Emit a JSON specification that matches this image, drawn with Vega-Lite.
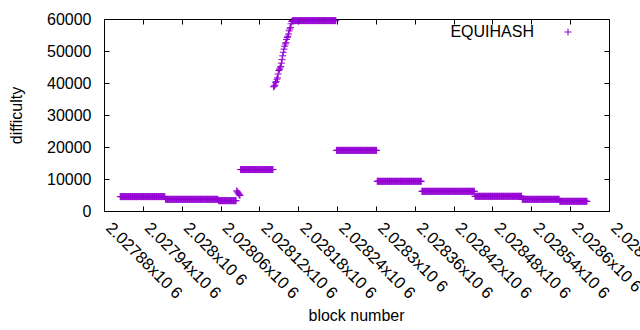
{
"$schema":"https://vega.github.io/schema/vega-lite/v6.json",
"width":505,"height":192,
"autosize":{"type":"none"},
"padding":{"left":104,"top":19,"right":31,"bottom":119},
"config":{"view":{"stroke":"#000","strokeWidth":1},"font":"Liberation Sans",
 "axis":{"grid":false,"domain":false,"tickColor":"#000","tickWidth":1,"labelColor":"#000","labelFont":"Liberation Sans","labelFontSize":16,"titleFont":"Liberation Sans","titleFontSize":16,"titleFontWeight":"normal","titleColor":"#000"},
 "legend":{"padding":0,"offset":0}},
"data":{"values":[
{"b":2027905,"d":4500},{"b":2027906,"d":4500},{"b":2027907,"d":4500},{"b":2027908,"d":4500},{"b":2027909,"d":4500},{"b":2027910,"d":4500},{"b":2027911,"d":4500},{"b":2027912,"d":4500},{"b":2027913,"d":4500},{"b":2027914,"d":4500},{"b":2027915,"d":4500},{"b":2027916,"d":4500},{"b":2027917,"d":4500},{"b":2027918,"d":4500},{"b":2027919,"d":4500},{"b":2027920,"d":4500},{"b":2027921,"d":4500},{"b":2027922,"d":4500},{"b":2027923,"d":4500},{"b":2027924,"d":4500},{"b":2027925,"d":4500},{"b":2027926,"d":4500},{"b":2027927,"d":4500},{"b":2027928,"d":4500},{"b":2027929,"d":4500},{"b":2027930,"d":4500},{"b":2027931,"d":4500},{"b":2027932,"d":4500},{"b":2027933,"d":4500},{"b":2027934,"d":4500},{"b":2027935,"d":4500},{"b":2027936,"d":4500},{"b":2027937,"d":4500},{"b":2027938,"d":4500},{"b":2027939,"d":4500},{"b":2027940,"d":4500},{"b":2027941,"d":4500},{"b":2027942,"d":4500},{"b":2027943,"d":4500},{"b":2027944,"d":4500},{"b":2027945,"d":4500},{"b":2027946,"d":4500},{"b":2027947,"d":4500},{"b":2027948,"d":4500},{"b":2027949,"d":4500},{"b":2027950,"d":4500},{"b":2027951,"d":4500},{"b":2027952,"d":4500},{"b":2027953,"d":4500},{"b":2027954,"d":4500},{"b":2027955,"d":4500},{"b":2027956,"d":4500},{"b":2027957,"d":4500},{"b":2027958,"d":4500},{"b":2027959,"d":4500},{"b":2027960,"d":4500},{"b":2027961,"d":4500},{"b":2027962,"d":4500},{"b":2027963,"d":4500},{"b":2027964,"d":4500},{"b":2027965,"d":4500},{"b":2027966,"d":4500},{"b":2027967,"d":4500},{"b":2027968,"d":4500},{"b":2027969,"d":4500},{"b":2027970,"d":4500},{"b":2027971,"d":4500},{"b":2027972,"d":4500},{"b":2027973,"d":4500},{"b":2027974,"d":4500},
{"b":2027975,"d":3650},{"b":2027976,"d":3650},{"b":2027977,"d":3650},{"b":2027978,"d":3650},{"b":2027979,"d":3650},{"b":2027980,"d":3650},{"b":2027981,"d":3650},{"b":2027982,"d":3650},{"b":2027983,"d":3650},{"b":2027984,"d":3650},{"b":2027985,"d":3650},{"b":2027986,"d":3650},{"b":2027987,"d":3650},{"b":2027988,"d":3650},{"b":2027989,"d":3650},{"b":2027990,"d":3650},{"b":2027991,"d":3650},{"b":2027992,"d":3650},{"b":2027993,"d":3650},{"b":2027994,"d":3650},{"b":2027995,"d":3650},{"b":2027996,"d":3650},{"b":2027997,"d":3650},{"b":2027998,"d":3650},{"b":2027999,"d":3650},{"b":2028000,"d":3650},{"b":2028001,"d":3650},{"b":2028002,"d":3650},{"b":2028003,"d":3650},{"b":2028004,"d":3650},{"b":2028005,"d":3650},{"b":2028006,"d":3650},{"b":2028007,"d":3650},{"b":2028008,"d":3650},{"b":2028009,"d":3650},{"b":2028010,"d":3650},{"b":2028011,"d":3650},{"b":2028012,"d":3650},{"b":2028013,"d":3650},{"b":2028014,"d":3650},{"b":2028015,"d":3650},{"b":2028016,"d":3650},{"b":2028017,"d":3650},{"b":2028018,"d":3650},{"b":2028019,"d":3650},{"b":2028020,"d":3650},{"b":2028021,"d":3650},{"b":2028022,"d":3650},{"b":2028023,"d":3650},{"b":2028024,"d":3650},{"b":2028025,"d":3650},{"b":2028026,"d":3650},{"b":2028027,"d":3650},{"b":2028028,"d":3650},{"b":2028029,"d":3650},{"b":2028030,"d":3650},{"b":2028031,"d":3650},{"b":2028032,"d":3650},{"b":2028033,"d":3650},{"b":2028034,"d":3650},{"b":2028035,"d":3650},{"b":2028036,"d":3650},{"b":2028037,"d":3650},{"b":2028038,"d":3650},{"b":2028039,"d":3650},{"b":2028040,"d":3650},{"b":2028041,"d":3650},{"b":2028042,"d":3650},{"b":2028043,"d":3650},{"b":2028044,"d":3650},{"b":2028045,"d":3650},{"b":2028046,"d":3650},{"b":2028047,"d":3650},{"b":2028048,"d":3650},{"b":2028049,"d":3650},{"b":2028050,"d":3650},{"b":2028051,"d":3650},{"b":2028052,"d":3650},{"b":2028053,"d":3650},{"b":2028054,"d":3650},{"b":2028055,"d":3650},{"b":2028056,"d":3650},
{"b":2028057,"d":3230},{"b":2028058,"d":3230},{"b":2028059,"d":3230},{"b":2028060,"d":3230},{"b":2028061,"d":3230},{"b":2028062,"d":3230},{"b":2028063,"d":3230},{"b":2028064,"d":3230},{"b":2028065,"d":3230},{"b":2028066,"d":3230},{"b":2028067,"d":3230},{"b":2028068,"d":3230},{"b":2028069,"d":3230},{"b":2028070,"d":3230},{"b":2028071,"d":3230},{"b":2028072,"d":3230},{"b":2028073,"d":3230},{"b":2028074,"d":3230},{"b":2028075,"d":3230},{"b":2028076,"d":3230},{"b":2028077,"d":3230},{"b":2028078,"d":3230},{"b":2028079,"d":3230},{"b":2028080,"d":3230},{"b":2028081,"d":3230},{"b":2028082,"d":3230},{"b":2028083,"d":3230},{"b":2028084,"d":3230},
{"b":2028085,"d":6300},{"b":2028086,"d":6000},{"b":2028087,"d":5700},{"b":2028088,"d":5400},{"b":2028089,"d":5100},{"b":2028090,"d":4850},
{"b":2028091,"d":12950},{"b":2028092,"d":12950},{"b":2028093,"d":12950},{"b":2028094,"d":12950},{"b":2028095,"d":12950},{"b":2028096,"d":12950},{"b":2028097,"d":12950},{"b":2028098,"d":12950},{"b":2028099,"d":12950},{"b":2028100,"d":12950},{"b":2028101,"d":12950},{"b":2028102,"d":12950},{"b":2028103,"d":12950},{"b":2028104,"d":12950},{"b":2028105,"d":12950},{"b":2028106,"d":12950},{"b":2028107,"d":12950},{"b":2028108,"d":12950},{"b":2028109,"d":12950},{"b":2028110,"d":12950},{"b":2028111,"d":12950},{"b":2028112,"d":12950},{"b":2028113,"d":12950},{"b":2028114,"d":12950},{"b":2028115,"d":12950},{"b":2028116,"d":12950},{"b":2028117,"d":12950},{"b":2028118,"d":12950},{"b":2028119,"d":12950},{"b":2028120,"d":12950},{"b":2028121,"d":12950},{"b":2028122,"d":12950},{"b":2028123,"d":12950},{"b":2028124,"d":12950},{"b":2028125,"d":12950},{"b":2028126,"d":12950},{"b":2028127,"d":12950},{"b":2028128,"d":12950},{"b":2028129,"d":12950},{"b":2028130,"d":12950},{"b":2028131,"d":12950},{"b":2028132,"d":12950},{"b":2028133,"d":12950},{"b":2028134,"d":12950},{"b":2028135,"d":12950},{"b":2028136,"d":12950},{"b":2028137,"d":12950},{"b":2028138,"d":12950},{"b":2028139,"d":12950},{"b":2028140,"d":12950},{"b":2028141,"d":12950},
{"b":2028142,"d":38800},{"b":2028143,"d":39000},{"b":2028144,"d":39300},{"b":2028145,"d":40100},{"b":2028146,"d":40500},{"b":2028147,"d":41200},{"b":2028148,"d":41600},{"b":2028149,"d":42800},{"b":2028150,"d":43900},{"b":2028151,"d":44300},{"b":2028152,"d":44700},{"b":2028153,"d":45200},{"b":2028154,"d":46200},{"b":2028155,"d":47300},{"b":2028156,"d":48500},{"b":2028157,"d":49600},{"b":2028158,"d":50600},{"b":2028159,"d":51500},{"b":2028160,"d":52200},{"b":2028161,"d":52600},{"b":2028162,"d":53600},{"b":2028163,"d":54200},{"b":2028164,"d":54600},{"b":2028165,"d":55300},{"b":2028166,"d":56300},{"b":2028167,"d":56900},{"b":2028168,"d":57300},{"b":2028169,"d":58500},{"b":2028170,"d":59200},
{"b":2028171,"d":59500},{"b":2028172,"d":59500},{"b":2028173,"d":59500},{"b":2028174,"d":59500},{"b":2028175,"d":59500},{"b":2028176,"d":59500},{"b":2028177,"d":59500},{"b":2028178,"d":59500},{"b":2028179,"d":59500},{"b":2028180,"d":59500},{"b":2028181,"d":59500},{"b":2028182,"d":59500},{"b":2028183,"d":59500},{"b":2028184,"d":59500},{"b":2028185,"d":59500},{"b":2028186,"d":59500},{"b":2028187,"d":59500},{"b":2028188,"d":59500},{"b":2028189,"d":59500},{"b":2028190,"d":59500},{"b":2028191,"d":59500},{"b":2028192,"d":59500},{"b":2028193,"d":59500},{"b":2028194,"d":59500},{"b":2028195,"d":59500},{"b":2028196,"d":59500},{"b":2028197,"d":59500},{"b":2028198,"d":59500},{"b":2028199,"d":59500},{"b":2028200,"d":59500},{"b":2028201,"d":59500},{"b":2028202,"d":59500},{"b":2028203,"d":59500},{"b":2028204,"d":59500},{"b":2028205,"d":59500},{"b":2028206,"d":59500},{"b":2028207,"d":59500},{"b":2028208,"d":59500},{"b":2028209,"d":59500},{"b":2028210,"d":59500},{"b":2028211,"d":59500},{"b":2028212,"d":59500},{"b":2028213,"d":59500},{"b":2028214,"d":59500},{"b":2028215,"d":59500},{"b":2028216,"d":59500},{"b":2028217,"d":59500},{"b":2028218,"d":59500},{"b":2028219,"d":59500},{"b":2028220,"d":59500},{"b":2028221,"d":59500},{"b":2028222,"d":59500},{"b":2028223,"d":59500},{"b":2028224,"d":59500},{"b":2028225,"d":59500},{"b":2028226,"d":59500},{"b":2028227,"d":59500},{"b":2028228,"d":59500},{"b":2028229,"d":59500},{"b":2028230,"d":59500},{"b":2028231,"d":59500},{"b":2028232,"d":59500},{"b":2028233,"d":59500},{"b":2028234,"d":59500},{"b":2028235,"d":59500},{"b":2028236,"d":59500},{"b":2028237,"d":59500},{"b":2028238,"d":59500},
{"b":2028239,"d":18950},{"b":2028240,"d":18950},{"b":2028241,"d":18950},{"b":2028242,"d":18950},{"b":2028243,"d":18950},{"b":2028244,"d":18950},{"b":2028245,"d":18950},{"b":2028246,"d":18950},{"b":2028247,"d":18950},{"b":2028248,"d":18950},{"b":2028249,"d":18950},{"b":2028250,"d":18950},{"b":2028251,"d":18950},{"b":2028252,"d":18950},{"b":2028253,"d":18950},{"b":2028254,"d":18950},{"b":2028255,"d":18950},{"b":2028256,"d":18950},{"b":2028257,"d":18950},{"b":2028258,"d":18950},{"b":2028259,"d":18950},{"b":2028260,"d":18950},{"b":2028261,"d":18950},{"b":2028262,"d":18950},{"b":2028263,"d":18950},{"b":2028264,"d":18950},{"b":2028265,"d":18950},{"b":2028266,"d":18950},{"b":2028267,"d":18950},{"b":2028268,"d":18950},{"b":2028269,"d":18950},{"b":2028270,"d":18950},{"b":2028271,"d":18950},{"b":2028272,"d":18950},{"b":2028273,"d":18950},{"b":2028274,"d":18950},{"b":2028275,"d":18950},{"b":2028276,"d":18950},{"b":2028277,"d":18950},{"b":2028278,"d":18950},{"b":2028279,"d":18950},{"b":2028280,"d":18950},{"b":2028281,"d":18950},{"b":2028282,"d":18950},{"b":2028283,"d":18950},{"b":2028284,"d":18950},{"b":2028285,"d":18950},{"b":2028286,"d":18950},{"b":2028287,"d":18950},{"b":2028288,"d":18950},{"b":2028289,"d":18950},{"b":2028290,"d":18950},{"b":2028291,"d":18950},{"b":2028292,"d":18950},{"b":2028293,"d":18950},{"b":2028294,"d":18950},{"b":2028295,"d":18950},{"b":2028296,"d":18950},{"b":2028297,"d":18950},{"b":2028298,"d":18950},{"b":2028299,"d":18950},{"b":2028300,"d":18950},{"b":2028301,"d":18950},
{"b":2028302,"d":9280},{"b":2028303,"d":9280},{"b":2028304,"d":9280},{"b":2028305,"d":9280},{"b":2028306,"d":9280},{"b":2028307,"d":9280},{"b":2028308,"d":9280},{"b":2028309,"d":9280},{"b":2028310,"d":9280},{"b":2028311,"d":9280},{"b":2028312,"d":9280},{"b":2028313,"d":9280},{"b":2028314,"d":9280},{"b":2028315,"d":9280},{"b":2028316,"d":9280},{"b":2028317,"d":9280},{"b":2028318,"d":9280},{"b":2028319,"d":9280},{"b":2028320,"d":9280},{"b":2028321,"d":9280},{"b":2028322,"d":9280},{"b":2028323,"d":9280},{"b":2028324,"d":9280},{"b":2028325,"d":9280},{"b":2028326,"d":9280},{"b":2028327,"d":9280},{"b":2028328,"d":9280},{"b":2028329,"d":9280},{"b":2028330,"d":9280},{"b":2028331,"d":9280},{"b":2028332,"d":9280},{"b":2028333,"d":9280},{"b":2028334,"d":9280},{"b":2028335,"d":9280},{"b":2028336,"d":9280},{"b":2028337,"d":9280},{"b":2028338,"d":9280},{"b":2028339,"d":9280},{"b":2028340,"d":9280},{"b":2028341,"d":9280},{"b":2028342,"d":9280},{"b":2028343,"d":9280},{"b":2028344,"d":9280},{"b":2028345,"d":9280},{"b":2028346,"d":9280},{"b":2028347,"d":9280},{"b":2028348,"d":9280},{"b":2028349,"d":9280},{"b":2028350,"d":9280},{"b":2028351,"d":9280},{"b":2028352,"d":9280},{"b":2028353,"d":9280},{"b":2028354,"d":9280},{"b":2028355,"d":9280},{"b":2028356,"d":9280},{"b":2028357,"d":9280},{"b":2028358,"d":9280},{"b":2028359,"d":9280},{"b":2028360,"d":9280},{"b":2028361,"d":9280},{"b":2028362,"d":9280},{"b":2028363,"d":9280},{"b":2028364,"d":9280},{"b":2028365,"d":9280},{"b":2028366,"d":9280},{"b":2028367,"d":9280},{"b":2028368,"d":9280},{"b":2028369,"d":9280},{"b":2028370,"d":9280},
{"b":2028371,"d":6150},{"b":2028372,"d":6150},{"b":2028373,"d":6150},{"b":2028374,"d":6150},{"b":2028375,"d":6150},{"b":2028376,"d":6150},{"b":2028377,"d":6150},{"b":2028378,"d":6150},{"b":2028379,"d":6150},{"b":2028380,"d":6150},{"b":2028381,"d":6150},{"b":2028382,"d":6150},{"b":2028383,"d":6150},{"b":2028384,"d":6150},{"b":2028385,"d":6150},{"b":2028386,"d":6150},{"b":2028387,"d":6150},{"b":2028388,"d":6150},{"b":2028389,"d":6150},{"b":2028390,"d":6150},{"b":2028391,"d":6150},{"b":2028392,"d":6150},{"b":2028393,"d":6150},{"b":2028394,"d":6150},{"b":2028395,"d":6150},{"b":2028396,"d":6150},{"b":2028397,"d":6150},{"b":2028398,"d":6150},{"b":2028399,"d":6150},{"b":2028400,"d":6150},{"b":2028401,"d":6150},{"b":2028402,"d":6150},{"b":2028403,"d":6150},{"b":2028404,"d":6150},{"b":2028405,"d":6150},{"b":2028406,"d":6150},{"b":2028407,"d":6150},{"b":2028408,"d":6150},{"b":2028409,"d":6150},{"b":2028410,"d":6150},{"b":2028411,"d":6150},{"b":2028412,"d":6150},{"b":2028413,"d":6150},{"b":2028414,"d":6150},{"b":2028415,"d":6150},{"b":2028416,"d":6150},{"b":2028417,"d":6150},{"b":2028418,"d":6150},{"b":2028419,"d":6150},{"b":2028420,"d":6150},{"b":2028421,"d":6150},{"b":2028422,"d":6150},{"b":2028423,"d":6150},{"b":2028424,"d":6150},{"b":2028425,"d":6150},{"b":2028426,"d":6150},{"b":2028427,"d":6150},{"b":2028428,"d":6150},{"b":2028429,"d":6150},{"b":2028430,"d":6150},{"b":2028431,"d":6150},{"b":2028432,"d":6150},{"b":2028433,"d":6150},{"b":2028434,"d":6150},{"b":2028435,"d":6150},{"b":2028436,"d":6150},{"b":2028437,"d":6150},{"b":2028438,"d":6150},{"b":2028439,"d":6150},{"b":2028440,"d":6150},{"b":2028441,"d":6150},{"b":2028442,"d":6150},{"b":2028443,"d":6150},{"b":2028444,"d":6150},{"b":2028445,"d":6150},{"b":2028446,"d":6150},{"b":2028447,"d":6150},{"b":2028448,"d":6150},{"b":2028449,"d":6150},{"b":2028450,"d":6150},{"b":2028451,"d":6150},{"b":2028452,"d":6150},
{"b":2028453,"d":4590},{"b":2028454,"d":4590},{"b":2028455,"d":4590},{"b":2028456,"d":4590},{"b":2028457,"d":4590},{"b":2028458,"d":4590},{"b":2028459,"d":4590},{"b":2028460,"d":4590},{"b":2028461,"d":4590},{"b":2028462,"d":4590},{"b":2028463,"d":4590},{"b":2028464,"d":4590},{"b":2028465,"d":4590},{"b":2028466,"d":4590},{"b":2028467,"d":4590},{"b":2028468,"d":4590},{"b":2028469,"d":4590},{"b":2028470,"d":4590},{"b":2028471,"d":4590},{"b":2028472,"d":4590},{"b":2028473,"d":4590},{"b":2028474,"d":4590},{"b":2028475,"d":4590},{"b":2028476,"d":4590},{"b":2028477,"d":4590},{"b":2028478,"d":4590},{"b":2028479,"d":4590},{"b":2028480,"d":4590},{"b":2028481,"d":4590},{"b":2028482,"d":4590},{"b":2028483,"d":4590},{"b":2028484,"d":4590},{"b":2028485,"d":4590},{"b":2028486,"d":4590},{"b":2028487,"d":4590},{"b":2028488,"d":4590},{"b":2028489,"d":4590},{"b":2028490,"d":4590},{"b":2028491,"d":4590},{"b":2028492,"d":4590},{"b":2028493,"d":4590},{"b":2028494,"d":4590},{"b":2028495,"d":4590},{"b":2028496,"d":4590},{"b":2028497,"d":4590},{"b":2028498,"d":4590},{"b":2028499,"d":4590},{"b":2028500,"d":4590},{"b":2028501,"d":4590},{"b":2028502,"d":4590},{"b":2028503,"d":4590},{"b":2028504,"d":4590},{"b":2028505,"d":4590},{"b":2028506,"d":4590},{"b":2028507,"d":4590},{"b":2028508,"d":4590},{"b":2028509,"d":4590},{"b":2028510,"d":4590},{"b":2028511,"d":4590},{"b":2028512,"d":4590},{"b":2028513,"d":4590},{"b":2028514,"d":4590},{"b":2028515,"d":4590},{"b":2028516,"d":4590},{"b":2028517,"d":4590},{"b":2028518,"d":4590},{"b":2028519,"d":4590},{"b":2028520,"d":4590},{"b":2028521,"d":4590},{"b":2028522,"d":4590},{"b":2028523,"d":4590},{"b":2028524,"d":4590},{"b":2028525,"d":4590},
{"b":2028526,"d":3650},{"b":2028527,"d":3650},{"b":2028528,"d":3650},{"b":2028529,"d":3650},{"b":2028530,"d":3650},{"b":2028531,"d":3650},{"b":2028532,"d":3650},{"b":2028533,"d":3650},{"b":2028534,"d":3650},{"b":2028535,"d":3650},{"b":2028536,"d":3650},{"b":2028537,"d":3650},{"b":2028538,"d":3650},{"b":2028539,"d":3650},{"b":2028540,"d":3650},{"b":2028541,"d":3650},{"b":2028542,"d":3650},{"b":2028543,"d":3650},{"b":2028544,"d":3650},{"b":2028545,"d":3650},{"b":2028546,"d":3650},{"b":2028547,"d":3650},{"b":2028548,"d":3650},{"b":2028549,"d":3650},{"b":2028550,"d":3650},{"b":2028551,"d":3650},{"b":2028552,"d":3650},{"b":2028553,"d":3650},{"b":2028554,"d":3650},{"b":2028555,"d":3650},{"b":2028556,"d":3650},{"b":2028557,"d":3650},{"b":2028558,"d":3650},{"b":2028559,"d":3650},{"b":2028560,"d":3650},{"b":2028561,"d":3650},{"b":2028562,"d":3650},{"b":2028563,"d":3650},{"b":2028564,"d":3650},{"b":2028565,"d":3650},{"b":2028566,"d":3650},{"b":2028567,"d":3650},{"b":2028568,"d":3650},{"b":2028569,"d":3650},{"b":2028570,"d":3650},{"b":2028571,"d":3650},{"b":2028572,"d":3650},{"b":2028573,"d":3650},{"b":2028574,"d":3650},{"b":2028575,"d":3650},{"b":2028576,"d":3650},{"b":2028577,"d":3650},{"b":2028578,"d":3650},{"b":2028579,"d":3650},{"b":2028580,"d":3650},{"b":2028581,"d":3650},{"b":2028582,"d":3650},{"b":2028583,"d":3650},
{"b":2028584,"d":3030},{"b":2028585,"d":3030},{"b":2028586,"d":3030},{"b":2028587,"d":3030},{"b":2028588,"d":3030},{"b":2028589,"d":3030},{"b":2028590,"d":3030},{"b":2028591,"d":3030},{"b":2028592,"d":3030},{"b":2028593,"d":3030},{"b":2028594,"d":3030},{"b":2028595,"d":3030},{"b":2028596,"d":3030},{"b":2028597,"d":3030},{"b":2028598,"d":3030},{"b":2028599,"d":3030},{"b":2028600,"d":3030},{"b":2028601,"d":3030},{"b":2028602,"d":3030},{"b":2028603,"d":3030},{"b":2028604,"d":3030},{"b":2028605,"d":3030},{"b":2028606,"d":3030},{"b":2028607,"d":3030},{"b":2028608,"d":3030},{"b":2028609,"d":3030},{"b":2028610,"d":3030},{"b":2028611,"d":3030},{"b":2028612,"d":3030},{"b":2028613,"d":3030},{"b":2028614,"d":3030},{"b":2028615,"d":3030},{"b":2028616,"d":3030},{"b":2028617,"d":3030},{"b":2028618,"d":3030},{"b":2028619,"d":3030},{"b":2028620,"d":3030},{"b":2028621,"d":3030},{"b":2028622,"d":3030},{"b":2028623,"d":3030},{"b":2028624,"d":3030},{"b":2028625,"d":3030},{"b":2028626,"d":3030}
]},
"layer":[
 {"mark":{"type":"point","shape":"M-1,0H1M0,-1V1","size":49,"strokeWidth":1,"filled":false,"opacity":1},
  "encoding":{
   "x":{"field":"b","type":"quantitative","scale":{"domain":[2027880,2028660],"nice":false,"zero":false},
        "axis":{"orient":"bottom","title":"block number","values":[2027880,2027940,2028000,2028060,2028120,2028180,2028240,2028300,2028360,2028420,2028480,2028540,2028600,2028660],
                "tickSize":-5,"labelAngle":45,"labelAlign":"left","labelBaseline":"middle","labelPadding":19,"labelOffset":4,"labelFontSize":16.5,"labelOverlap":false,"labelBound":false,"labelFlush":false,
                "labelExpr":"format(datum.value/1e6, '.7~g') + 'x10 6'","titleX":252,"titleY":104,"titleBaseline":"middle","titleAnchor":null}},
   "y":{"field":"d","type":"quantitative","scale":{"domain":[0,60000],"nice":false,"zero":false},
        "axis":{"orient":"left","title":"difficulty","values":[0,10000,20000,30000,40000,50000,60000],"format":"d","tickSize":-5,"labelPadding":18,"labelFlush":false,"labelOverlap":false,
                "titleX":-88,"titleY":96,"titleBaseline":"middle","titleAngle":-90,"titleAnchor":null}},
   "color":{"datum":"EQUIHASH","scale":{"range":["#9400d3"]},
            "legend":{"title":null,"orient":"none","legendX":456,"legendY":5,"symbolType":"M-1,0H1M0,-1V1","symbolSize":49,"symbolStrokeWidth":1,"symbolFillColor":"transparent",
                      "labelAlign":"right","labelBaseline":"middle","labelOffset":-42,"labelFontSize":16,"labelFont":"Liberation Sans","labelColor":"#000"}}}},
 {"mark":{"type":"point","opacity":0},
  "encoding":{
   "x":{"field":"b","type":"quantitative","scale":{"domain":[2027880,2028660],"nice":false,"zero":false},
        "axis":{"orient":"top","title":null,"labels":false,"tickSize":-5,"values":[2027880,2027940,2028000,2028060,2028120,2028180,2028240,2028300,2028360,2028420,2028480,2028540,2028600,2028660]}},
   "y":{"field":"d","type":"quantitative","scale":{"domain":[0,60000],"nice":false,"zero":false},
        "axis":{"orient":"right","title":null,"labels":false,"tickSize":-5,"values":[0,10000,20000,30000,40000,50000,60000]}}}}
],
"resolve":{"axis":{"x":"independent","y":"independent"}}
}
